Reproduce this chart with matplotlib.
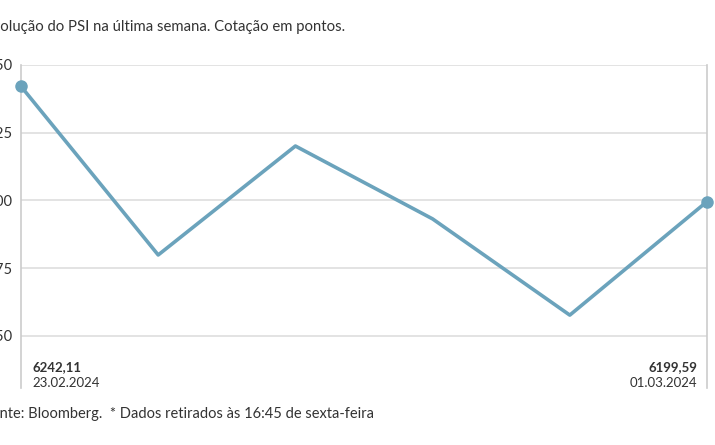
import matplotlib
matplotlib.use("Agg")
import matplotlib.pyplot as plt

plt.rcParams["font.family"] = ["Lato", "DejaVu Sans"]

# dados: fecho diário do PSI (23.02.2024 a 01.03.2024)
dias = ["23.02.2024", "26.02.2024", "27.02.2024", "28.02.2024", "29.02.2024", "01.03.2024"]
valores = [6242.11, 6179.9, 6220.1, 6193.2, 6157.7, 6199.59]
rotulos_primeiro = ["6242,11", "23.02.2024"]
rotulos_ultimo = ["6199,59", "01.03.2024"]
yticks = [6150, 6175, 6200, 6225, 6250]

titulo = "Evolução do PSI na última semana. Cotação em pontos."
rodape = "Fonte: Bloomberg.  * Dados retirados às 16:45 de sexta-feira"

cor_linha = "#6ba3bc"
cor_texto = "#333333"

fig = plt.figure(figsize=(7.15, 4.45), dpi=100)
ax = fig.add_axes([21 / 715, 1 - 388 / 445, 686 / 715, 323 / 445])

x = list(range(len(valores)))
ax.plot(x, valores, color=cor_linha, linewidth=2.6, zorder=3)
ax.plot([x[0], x[-1]], [valores[0], valores[-1]], "o", color=cor_linha,
        markersize=8, zorder=4, clip_on=False)

ymin = 6130.8
ax.set_xlim(0, len(valores) - 1)
ax.set_ylim(ymin, 6250)
ax.set_yticks(yticks)
ax.set_yticklabels([str(v) for v in yticks])
ax.set_xticks([])
ax.grid(axis="y", color="#dedede", linewidth=1.2)
ax.tick_params(axis="y", length=0, pad=6, labelsize=10.5, labelcolor=cor_texto)
for lado in ["top", "bottom"]:
    ax.spines[lado].set_visible(False)
for lado in ["left", "right"]:
    ax.spines[lado].set_color("#cccccc")
    ax.spines[lado].set_linewidth(1.2)

# rótulos do primeiro e último ponto
ax.annotate(rotulos_primeiro[0], (x[0], ymin), xytext=(8, 15), textcoords="offset points",
            ha="left", va="center", fontsize=9.5, fontweight="bold", color=cor_texto)
ax.annotate(rotulos_primeiro[1], (x[0], ymin), xytext=(8, 3.5), textcoords="offset points",
            ha="left", va="center", fontsize=9.5, color=cor_texto)
ax.annotate(rotulos_ultimo[0], (x[-1], ymin), xytext=(-7, 15), textcoords="offset points",
            ha="right", va="center", fontsize=9.5, fontweight="bold", color=cor_texto)
ax.annotate(rotulos_ultimo[1], (x[-1], ymin), xytext=(-7, 3.5), textcoords="offset points",
            ha="right", va="center", fontsize=9.5, color=cor_texto)

# título e rodapé cortados à esquerda, como na imagem original
renderer = fig.canvas.get_renderer()


def largura(txt, size):
    t = fig.text(0, 0, txt, fontsize=size)
    w = t.get_window_extent(renderer).width
    t.remove()
    return w


fig.text(-largura("Ev", 10.7) / 715, 1 - 27 / 445, titulo, fontsize=10.7,
         color=cor_texto, va="center", ha="left")
fig.text(-largura("Fo", 10.5) / 715, 1 - 414 / 445, rodape, fontsize=10.5,
         color=cor_texto, va="center", ha="left")

fig.savefig("out.png", dpi=100)
